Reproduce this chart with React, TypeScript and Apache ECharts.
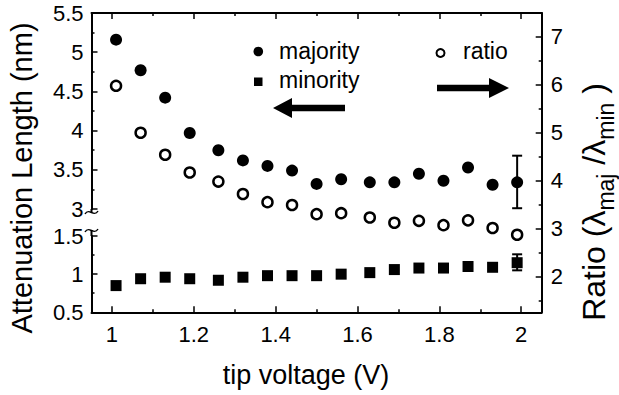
import React, { useEffect, useRef } from "react";
import * as echarts from "echarts";

const voltage = [1.01, 1.07, 1.13, 1.19, 1.26, 1.32, 1.38, 1.44, 1.5, 1.56, 1.63, 1.69, 1.75, 1.81, 1.87, 1.93, 1.99];
const majority = [5.16, 4.77, 4.42, 3.97, 3.75, 3.62, 3.55, 3.49, 3.32, 3.38, 3.34, 3.34, 3.45, 3.36, 3.53, 3.31, 3.34];
const minority = [0.85, 0.94, 0.96, 0.94, 0.92, 0.96, 0.98, 0.98, 0.98, 1.0, 1.02, 1.06, 1.08, 1.08, 1.1, 1.09, 1.15];
const ratio = [5.98, 5.0, 4.54, 4.17, 3.98, 3.72, 3.55, 3.49, 3.3, 3.32, 3.23, 3.12, 3.16, 3.07, 3.17, 3.01, 2.87];
const majorityErr = [[1.99, 3.01], [1.99, 3.68]];
const minorityErr = [[1.99, 1.05], [1.99, 1.26]];
const xTicks = [1, 1.2, 1.4, 1.6, 1.8, 2];
const xMinorTicks = [1.1, 1.3, 1.5, 1.7, 1.9];
const ratioTicks = [2, 3, 4, 5, 6, 7];
const ratioMinorTicks = [1.5, 2.5, 3.5, 4.5, 5.5, 6.5, 7.5];

const FONT = "'Liberation Sans', Arial, sans-serif";
const BLACK = "#000";

const GL = 91.5;
const GW = 450.2;

export default function App() {
  const ref = useRef<HTMLDivElement>(null);
  useEffect(() => {
    if (!ref.current) return;
    const chart = echarts.init(ref.current, null, { renderer: "svg" });
    const axisLine = { show: true, lineStyle: { color: BLACK, width: 2 } };
    const label = { color: BLACK, fontSize: 22, fontFamily: FONT };
    const xBase = { min: 0.95, max: 2.05, type: "value" as const, splitLine: { show: false } };
    const errSeries = (data: number[][], xi: number, yi: number) => ({
      type: "line", xAxisIndex: xi, yAxisIndex: yi, data,
      symbol: "rect", symbolSize: [10, 2], showSymbol: true,
      lineStyle: { color: BLACK, width: 2 },
      itemStyle: { color: BLACK, opacity: 1 },
    });
    const option: any = {
      animation: false,
      backgroundColor: "#fff",
      grid: [
        { left: GL, width: GW, top: 13, height: 299.3 },
        { left: GL, width: GW, top: 13, height: 196 },
        { left: GL, width: GW, top: 236, height: 76.3 },
      ],
      xAxis: [
        { ...xBase, gridIndex: 0, position: "bottom", axisLine,
          axisTick: { inside: true, length: 6, customValues: xTicks, lineStyle: { color: BLACK, width: 1.5 } },
          axisLabel: { ...label, margin: 11, customValues: xTicks } },
        { ...xBase, gridIndex: 1, show: false },
        { ...xBase, gridIndex: 2, show: false },
        { ...xBase, gridIndex: 0, position: "bottom", axisLine: { show: false },
          axisTick: { inside: true, length: 3, customValues: xMinorTicks, lineStyle: { color: BLACK, width: 1.5 } },
          axisLabel: { show: false } },
        { ...xBase, gridIndex: 0, position: "top", axisLine,
          axisTick: { inside: true, length: 6, customValues: xTicks, lineStyle: { color: BLACK, width: 1.5 } },
          axisLabel: { show: false } },
        { ...xBase, gridIndex: 0, position: "top", axisLine: { show: false },
          axisTick: { inside: true, length: 3, customValues: xMinorTicks, lineStyle: { color: BLACK, width: 1.5 } },
          axisLabel: { show: false } },
      ],
      yAxis: [
        { type: "value", gridIndex: 0, position: "right", min: 1.25, max: 7.5, axisLine,
          splitLine: { show: false },
          axisTick: { inside: true, length: 6, customValues: ratioTicks, lineStyle: { color: BLACK, width: 1.5 } },
          axisLabel: { ...label, margin: 9, customValues: ratioTicks } },
        { type: "value", gridIndex: 1, position: "left", min: 3, max: 5.5, interval: 0.5, axisLine,
          splitLine: { show: false },
          axisTick: { inside: true, length: 6, lineStyle: { color: BLACK, width: 1.5 } },
          minorTick: { show: true, splitNumber: 2, length: 3, lineStyle: { color: BLACK, width: 1.5 } },
          minorSplitLine: { show: false },
          axisLabel: { ...label, margin: 8 } },
        { type: "value", gridIndex: 2, position: "left", min: 0.5, max: 1.5, interval: 0.5, axisLine,
          splitLine: { show: false },
          axisTick: { inside: true, length: 6, lineStyle: { color: BLACK, width: 1.5 } },
          minorTick: { show: true, splitNumber: 2, length: 3, lineStyle: { color: BLACK, width: 1.5 } },
          minorSplitLine: { show: false },
          axisLabel: { ...label, margin: 8 } },
        { type: "value", gridIndex: 0, position: "right", min: 1.25, max: 7.5, axisLine: { show: false },
          splitLine: { show: false },
          axisTick: { inside: true, length: 3, customValues: ratioMinorTicks, lineStyle: { color: BLACK, width: 1.5 } },
          axisLabel: { show: false } },
      ],
      series: [
        errSeries(majorityErr, 1, 1),
        errSeries(minorityErr, 2, 2),
        { type: "scatter", xAxisIndex: 0, yAxisIndex: 0,
          data: voltage.map((v, i) => [v, ratio[i]]),
          symbol: "circle", symbolSize: 10,
          itemStyle: { color: "#fff", borderColor: BLACK, borderWidth: 2.5, opacity: 1 } },
        { type: "scatter", xAxisIndex: 1, yAxisIndex: 1,
          data: voltage.map((v, i) => [v, majority[i]]),
          symbol: "circle", symbolSize: 12, itemStyle: { color: BLACK, opacity: 1 } },
        { type: "scatter", xAxisIndex: 2, yAxisIndex: 2,
          data: voltage.map((v, i) => [v, minority[i]]),
          symbol: "rect", symbolSize: 11, itemStyle: { color: BLACK, opacity: 1 } },
      ],
      graphic: [
        { type: "text", x: 306, y: 375,
          style: { text: "tip voltage (V)", fontSize: 27, fontFamily: FONT, fill: BLACK, align: "center", verticalAlign: "middle" } },
        { type: "text", x: 22, y: 178, rotation: Math.PI / 2,
          style: { text: "Attenuation Length (nm)", fontSize: 29, fontFamily: FONT, fill: BLACK, align: "center", verticalAlign: "middle" } },
        { type: "text", x: 594, y: 202, rotation: Math.PI / 2,
          style: {
            text: "{a|Ratio (λ}{s|maj}{a| /λ}{s|min}{a| )}",
            align: "center", verticalAlign: "middle",
            rich: {
              a: { fontSize: 32, fontFamily: FONT, fill: BLACK, lineHeight: 46, verticalAlign: "middle" },
              s: { fontSize: 23, fontFamily: FONT, fill: BLACK, lineHeight: 23, verticalAlign: "bottom" },
            },
          } },
        { type: "circle", shape: { cx: 258.3, cy: 51.5, r: 4.8 }, style: { fill: BLACK } },
        { type: "rect", shape: { x: 254, y: 77.5, width: 8.5, height: 8.5 }, style: { fill: BLACK } },
        { type: "circle", shape: { cx: 440.5, cy: 53, r: 4 }, style: { fill: "#fff", stroke: BLACK, lineWidth: 2 } },
        { type: "text", x: 279, y: 50.5,
          style: { text: "majority", fontSize: 23, fontFamily: FONT, fill: BLACK, align: "left", verticalAlign: "middle" } },
        { type: "text", x: 279, y: 80,
          style: { text: "minority", fontSize: 23, fontFamily: FONT, fill: BLACK, align: "left", verticalAlign: "middle" } },
        { type: "text", x: 463, y: 51,
          style: { text: "ratio", fontSize: 23, fontFamily: FONT, fill: BLACK, align: "left", verticalAlign: "middle" } },
        { type: "polygon",
          shape: { points: [[273, 108], [292, 98], [292, 104.7], [345, 104.7], [345, 111.3], [292, 111.3], [292, 118]] },
          style: { fill: BLACK } },
        { type: "polygon",
          shape: { points: [[509, 88], [489, 78], [489, 84.7], [437, 84.7], [437, 91.3], [489, 91.3], [489, 98]] },
          style: { fill: BLACK } },
        { type: "line", shape: { x1: GL, y1: 209, x2: GL, y2: 212 }, style: { stroke: BLACK, lineWidth: 2 } },
        { type: "line", shape: { x1: GL, y1: 230, x2: GL, y2: 236 }, style: { stroke: BLACK, lineWidth: 2 } },
        { type: "bezierCurve",
          shape: { x1: 85, y1: 214, cpx1: 89, cpy1: 207, cpx2: 94, cpy2: 218, x2: 98, y2: 211 },
          style: { stroke: BLACK, lineWidth: 1.5, fill: null } },
        { type: "bezierCurve",
          shape: { x1: 85, y1: 232, cpx1: 89, cpy1: 225, cpx2: 94, cpy2: 236, x2: 98, y2: 229 },
          style: { stroke: BLACK, lineWidth: 1.5, fill: null } },
      ],
    };
    chart.setOption(option);
    return () => chart.dispose();
  }, []);
  return (
    <div
      ref={ref}
      style={{ position: "fixed", left: 0, top: 0, width: 619, height: 395, background: "#fff" }}
    />
  );
}
